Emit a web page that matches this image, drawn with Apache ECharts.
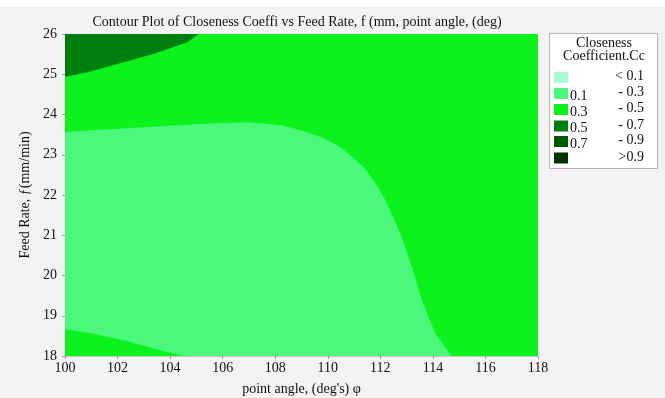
<!DOCTYPE html>
<html>
<head>
<meta charset="utf-8">
<script src="https://cdn.jsdelivr.net/npm/echarts@6/dist/echarts.min.js"></script>
<style>
html,body{margin:0;padding:0;background:#f3f3f3;}
#chart{width:665px;height:398px;}
</style>
</head>
<body>
<div id="chart"></div>
<script>
// ---- data ----
var xTicks = [100, 102, 104, 106, 108, 110, 112, 114, 116, 118];
var yTicks = [18, 19, 20, 21, 22, 23, 24, 25, 26];
var legendLows = ['', '0.1', '0.3', '0.5', '0.7', ''];
var legendHighs = ['< 0.1', '- 0.3', '- 0.5', '- 0.7', '- 0.9', '>0.9'];
var levelColors = ['#a8fcd6', '#4cf87c', '#0cf21c', '#007f0e', '#005800', '#003300'];

// contour band boundaries [point angle, feed rate]
var bandMid = [[100, 18], [118, 18], [118, 26], [100, 26]];              // 0.3 - 0.5
var bandHighTopLeft = [[100, 24.94], [100.89, 25.06], [102.16, 25.29], [103.42, 25.52],
  [104.68, 25.81], [105.06, 26], [100, 26]];                              // 0.5 - 0.7
var bandLow = [[100, 23.56], [103.6, 23.70], [105.5, 23.77], [107.0, 23.80], [108.3, 23.72],
  [109.1, 23.58], [109.8, 23.42], [110.4, 23.22], [110.9, 22.95], [111.35, 22.70],
  [111.8, 22.30], [112.2, 21.85], [112.75, 21.05], [113.19, 20.22], [113.57, 19.39],
  [114.08, 18.56], [114.7, 18], [104.57, 18], [103.61, 18.15], [102.35, 18.38],
  [101.08, 18.56], [100, 18.67]];                                         // 0.1 - 0.3
var regions = [bandMid, bandHighTopLeft, bandLow];
var regionLevel = [2, 3, 1];

var chart = echarts.init(document.getElementById('chart'));
var serif = 'Liberation Serif, Times New Roman, serif';

var graphics = [];
graphics.push({type: 'rect', shape: {x: 0, y: 0, width: 665, height: 7},
  style: {fill: '#ffffff'}, z: 0, silent: true});
graphics.push({type: 'rect', left: 549, top: 33, shape: {width: 108, height: 135},
  style: {fill: '#ffffff', stroke: '#b4b4b4', lineWidth: 1}, z: 10});
graphics.push({type: 'text', x: 604, y: 43, style: {text: 'Closeness', font: '14px ' + serif,
  fill: '#111', align: 'center', verticalAlign: 'middle'}, z: 11});
graphics.push({type: 'text', x: 604, y: 56, style: {text: 'Coefficient.Cc', font: '14px ' + serif,
  fill: '#111', align: 'center', verticalAlign: 'middle'}, z: 11});
var rowY = [77.5, 93.5, 109.5, 126, 141.5, 158];
for (var i = 0; i < levelColors.length; i++) {
  graphics.push({type: 'rect', shape: {x: 554, y: rowY[i] - 5.5, width: 14, height: 11},
    style: {fill: levelColors[i]}, z: 11});
  if (legendLows[i]) {
    graphics.push({type: 'text', x: 570, y: rowY[i] + 2.5, style: {text: legendLows[i],
      font: '14px ' + serif, fill: '#111', align: 'left', verticalAlign: 'middle'}, z: 11});
  }
  graphics.push({type: 'text', x: 644, y: rowY[i] - 1, style: {text: legendHighs[i],
    font: '14px ' + serif, fill: '#111', align: 'right', verticalAlign: 'middle'}, z: 11});
}

chart.setOption({
  backgroundColor: '#f3f3f3',
  animation: false,
  title: {text: 'Contour Plot of Closeness Coeffi vs Feed Rate, f (mm, point angle, (deg)',
    left: 292, top: 10, textAlign: 'center',
    textStyle: {fontFamily: serif, fontSize: 14, fontWeight: 'normal', color: '#111'}},
  grid: {left: 65, right: 127, top: 34, bottom: 42, outerBoundsMode: 'none', containLabel: false},
  xAxis: {type: 'value', min: xTicks[0], max: xTicks[xTicks.length - 1], interval: 2,
    name: "point angle, (deg's) φ", nameLocation: 'middle', nameGap: 26,
    nameTextStyle: {fontFamily: serif, fontSize: 14, color: '#111'},
    axisLine: {show: true, lineStyle: {color: '#c8c8c8'}},
    axisTick: {show: true, length: 3, lineStyle: {color: '#999'}},
    axisLabel: {fontFamily: serif, fontSize: 14, color: '#111', margin: 5},
    splitLine: {show: false}},
  yAxis: {type: 'value', min: yTicks[0], max: yTicks[yTicks.length - 1], interval: 1,
    name: 'Feed Rate, ƒ(mm/min)', nameLocation: 'middle', nameGap: 33,
    nameTextStyle: {fontFamily: serif, fontSize: 14, color: '#111'},
    axisLine: {show: true, lineStyle: {color: '#c8c8c8'}},
    axisTick: {show: true, length: 3, lineStyle: {color: '#999'}},
    axisLabel: {fontFamily: serif, fontSize: 14, color: '#111', margin: 8},
    splitLine: {show: false}},
  graphic: graphics,
  series: [{
    type: 'custom',
    clip: true,
    data: regions.map(function (r, k) { return [k]; }),
    encode: {x: -1, y: -1},
    renderItem: function (params, api) {
      var k = api.value(0);
      var pts = regions[k].map(function (p) { return api.coord(p); });
      return {type: 'polygon', shape: {points: pts},
        style: {fill: levelColors[regionLevel[k]], stroke: levelColors[regionLevel[k]], lineWidth: 0.5}};
    }
  }]
});
</script>
</body>
</html>
